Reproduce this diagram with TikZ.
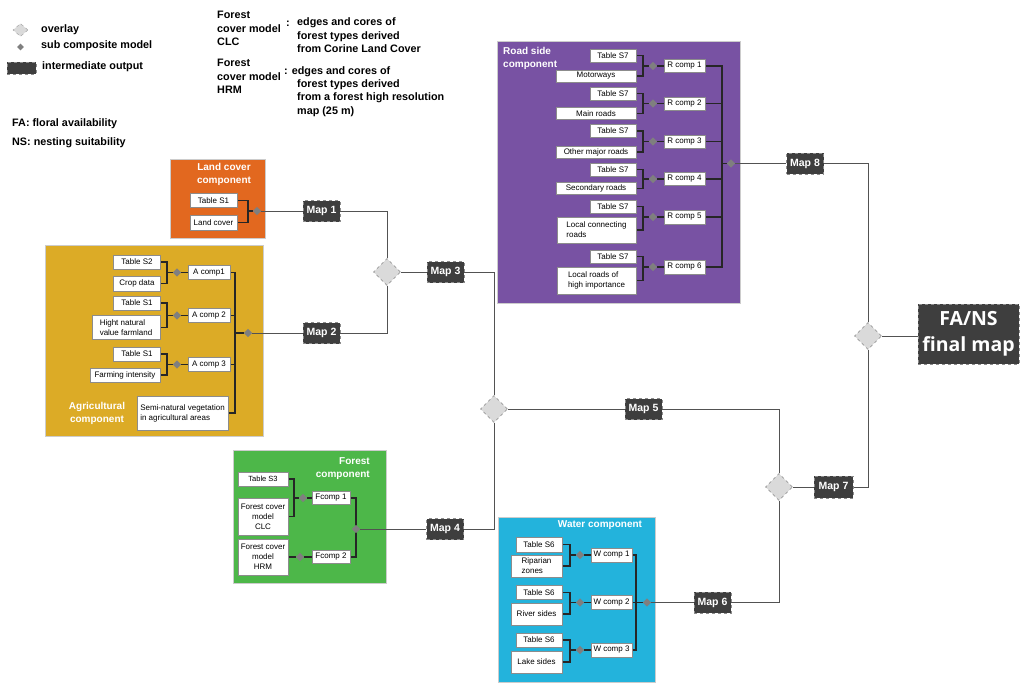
\documentclass[tikz,border=0pt]{standalone}
\usepackage{fontspec}
\setmainfont{Liberation Sans}
\newfontfamily\osans{Open Sans}
\usetikzlibrary{shapes.geometric}
\definecolor{cOrange}{HTML}{E2681F}
\definecolor{cGold}{HTML}{DCAB26}
\definecolor{cGreen}{HTML}{4DB749}
\definecolor{cCyan}{HTML}{23B3DC}
\definecolor{cPurple}{HTML}{7852A3}
\definecolor{mapgray}{HTML}{3E3E3E}
\definecolor{ovlgray}{HTML}{DADADA}
\definecolor{sdgray}{HTML}{7F7F7F}
\pgfdeclarelayer{back}
\pgfdeclarelayer{wires}
\pgfsetlayers{back,wires,main}
\begin{document}
\begin{tikzpicture}[x=1pt,y=-1pt,
 wbox/.style={draw=black!45, line width=0.5pt, fill=white, inner sep=1pt, font=\fontsize{8}{10}\selectfont, align=center, text=black},
 mapbox/.style={fill=mapgray, draw=black!45, dashed, line width=0.6pt, text=white, font=\bfseries\fontsize{10.5}{12}\selectfont, minimum width=37pt, minimum height=21pt, inner sep=0pt},
 ovl/.style={diamond, fill=ovlgray, draw=black!40, dashed, line width=0.6pt, minimum width=27pt, minimum height=27pt, inner sep=0pt},
 sdia/.style={diamond, fill=sdgray, minimum width=8.5pt, minimum height=8.5pt, inner sep=0pt},
 comp/.style={draw=black!20, line width=0.6pt},
 wire/.style={draw=black!85, line width=1.1pt},
 link/.style={draw=black!68, line width=1pt},
 ctitle/.style={text=white, font=\bfseries\fontsize{10}{13}\selectfont, inner sep=0pt},
 legend/.style={font=\bfseries\fontsize{10.8}{13.5}\selectfont, align=left, inner sep=0pt},
]
\useasboundingbox (0,0) rectangle (1024,690);

% ---------------- legend ----------------
\node[diamond, fill=ovlgray, draw=black!35, dashed, line width=0.5pt, minimum width=15pt, minimum height=13pt, inner sep=0pt] (lgo) at (20.5,30) {};
\node[sdia, minimum width=7pt, minimum height=7pt] (lgs) at (20.5,47) {};
\node[fill=mapgray, draw=black!45, dashed, line width=0.5pt, minimum width=29pt, minimum height=12pt, inner sep=0pt] (lgi) at (21.5,68.5) {};
\node[legend, anchor=west] (lgot) at (41,29.5) {overlay};
\node[legend, anchor=west] (lgst) at (41,46) {sub composite model};
\node[legend, anchor=west] (lgit) at (42,67) {intermediate output};
\node[legend, anchor=north west] (lclc) at (217,11) {Forest\\cover model\\CLC};
\node[legend, anchor=west] (lclcc) at (286,24) {:};
\node[legend, anchor=north west] (lclct) at (297,17.5) {edges and cores of\\forest types derived\\from Corine Land Cover};
\node[legend, anchor=north west] (lhrm) at (217,59) {Forest\\cover model\\HRM};
\node[legend, anchor=west] (lhrmc) at (284,71.5) {: edges and cores of};
\node[legend, anchor=north west] (lhrmt) at (297,79) {forest types derived\\from a forest high resolution\\map (25 m)};
\node[legend, anchor=west] (lfa) at (12,124) {FA: floral availability};
\node[legend, anchor=west] (lns) at (12,143) {NS: nesting suitability};

% ---------------- component backgrounds ----------------
\begin{pgfonlayer}{back}
\fill[cOrange, comp] (170,159) rectangle (265,238);
\fill[cGold, comp] (45,245) rectangle (263,436);
\fill[cGreen, comp] (233,450) rectangle (386,583);
\fill[cCyan, comp] (498,517) rectangle (655,682);
\fill[cPurple, comp] (497,41) rectangle (740,303);
\end{pgfonlayer}

% ---------------- land cover ----------------
\node[ctitle, align=center] (lct) at (224,174.5) {Land cover\\component};
\node[wbox, minimum width=47pt, minimum height=14pt] (lcT) at (213.5,200.5) {Table S1};
\node[wbox, minimum width=47pt, minimum height=15pt] (lcL) at (213.5,222.5) {Land cover};
\coordinate (lcj) at (248,211);
\node[sdia] (lcd) at (257,211) {};
\node[mapbox] (map1) at (321.5,211) {Map 1};

% ---------------- agricultural ----------------
\node[ctitle, align=center] (agt) at (97,413.5) {Agricultural\\component};
\node[wbox, minimum width=47pt, minimum height=14pt] (aT1) at (137,262) {Table S2};
\node[wbox, minimum width=47pt, minimum height=15pt] (aC) at (137,283.5) {Crop data};
\coordinate (aj1) at (167,272.5);
\node[sdia] (ad1) at (177,272.5) {};
\node[wbox, minimum width=42pt, minimum height=14pt] (aA1) at (209,272.5) {A comp1};
\node[wbox, minimum width=47pt, minimum height=14pt] (aT2) at (137,303) {Table S1};
\node[wbox, minimum width=68pt, minimum height=24pt, align=left] (aH) at (126,327.5) {Hight natural\\value farmland};
\coordinate (aj2) at (167,315.5);
\node[sdia] (ad2) at (177,315.5) {};
\node[wbox, minimum width=42pt, minimum height=14pt] (aA2) at (209,315.5) {A comp 2};
\node[wbox, minimum width=47pt, minimum height=14pt] (aT3) at (137,354) {Table S1};
\node[wbox, minimum width=70pt, minimum height=14pt] (aF) at (125,375) {Farming intensity};
\coordinate (aj3) at (167,364.5);
\node[sdia] (ad3) at (177,364.5) {};
\node[wbox, minimum width=42pt, minimum height=14pt] (aA3) at (209,364.5) {A comp 3};
\node[wbox, minimum width=91pt, minimum height=34pt, align=left] (aS) at (182.5,413) {Semi-natural vegetation\\in agricultural areas};
\coordinate (abot) at (235,413);
\node[sdia] (ad) at (248,333) {};
\node[mapbox] (map2) at (321.5,333) {Map 2};

% ---------------- forest ----------------
\node[ctitle, align=right, anchor=north east] (ft) at (370,457) {Forest\\component};
\node[wbox, minimum width=50pt, minimum height=14pt, font=\fontsize{7.5}{9}\selectfont] (fT) at (263,479) {Table S3};
\node[wbox, minimum width=50pt, minimum height=37pt] (fC) at (263,516.5) {Forest cover\\model\\CLC};
\node[wbox, minimum width=50pt, minimum height=36pt] (fH) at (263,557) {Forest cover\\model\\HRM};
\coordinate (fj) at (294,498);
\node[sdia] (fd1) at (303,498) {};
\node[wbox, minimum width=38pt, minimum height=13pt] (F1) at (331,498) {Fcomp 1};
\node[sdia] (fd2) at (300,557) {};
\node[wbox, minimum width=38pt, minimum height=13pt] (F2) at (331,557) {Fcomp 2};
\coordinate (fbot) at (356,557);
\node[sdia] (fd) at (356,529) {};
\node[mapbox] (map4) at (445,529) {Map 4};

% ---------------- water ----------------
\node[ctitle] (wt) at (600,525) {Water component};
\node[wbox, minimum width=46pt, minimum height=15pt] (wT1) at (539,544.5) {Table S6};
\node[wbox, minimum width=51pt, minimum height=22pt, align=left] (wR) at (536.5,566) {Riparian\\zones};
\coordinate (wj1) at (570,555);
\node[sdia] (wd1) at (580,555) {};
\node[wbox, minimum width=41pt, minimum height=14pt] (W1) at (611.5,555) {W comp 1};
\node[wbox, minimum width=46pt, minimum height=14pt] (wT2) at (539,592.5) {Table S6};
\node[wbox, minimum width=51pt, minimum height=22pt] (wRv) at (536.5,614) {River sides};
\coordinate (wj2) at (570,602.5);
\node[sdia] (wd2) at (580,602.5) {};
\node[wbox, minimum width=41pt, minimum height=14pt] (W2) at (611.5,602.5) {W comp 2};
\node[wbox, minimum width=46pt, minimum height=14pt] (wT3) at (539,640) {Table S6};
\node[wbox, minimum width=51pt, minimum height=22pt] (wL) at (536.5,662) {Lake sides};
\coordinate (wj3) at (570,650);
\node[sdia] (wd3) at (580,650) {};
\node[wbox, minimum width=41pt, minimum height=14pt] (W3) at (611.5,650) {W comp 3};
\coordinate (wbot) at (636,650);
\node[sdia] (wd) at (647,602.5) {};
\node[mapbox] (map6) at (712.5,602.5) {Map 6};

% ---------------- road side ----------------
\node[ctitle, align=left, anchor=north west] (rt) at (503,47.5) {Road side\\component};
\node[wbox, minimum width=46pt, minimum height=13pt] (rT1) at (613,55.5) {Table S7};
\node[wbox, minimum width=80pt, minimum height=12pt] (rB1) at (596,76) {Motorways};
\coordinate (rj1) at (643,66);
\node[sdia] (rd1) at (653,66) {};
\node[wbox, minimum width=41pt, minimum height=13pt] (R1) at (684.5,66) {R comp 1};
\node[wbox, minimum width=46pt, minimum height=13pt] (rT2) at (613,93.5) {Table S7};
\node[wbox, minimum width=80pt, minimum height=12pt] (rB2) at (596,113.5) {Main roads};
\coordinate (rj2) at (643,103.5);
\node[sdia] (rd2) at (653,103.5) {};
\node[wbox, minimum width=41pt, minimum height=13pt] (R2) at (684.5,103.5) {R comp 2};
\node[wbox, minimum width=46pt, minimum height=13pt] (rT3) at (613,131) {Table S7};
\node[wbox, minimum width=80pt, minimum height=12pt] (rB3) at (596,152) {Other major roads};
\coordinate (rj3) at (643,141.5);
\node[sdia] (rd3) at (653,141.5) {};
\node[wbox, minimum width=41pt, minimum height=13pt] (R3) at (684.5,141.5) {R comp 3};
\node[wbox, minimum width=46pt, minimum height=13pt] (rT4) at (613,169.5) {Table S7};
\node[wbox, minimum width=80pt, minimum height=12pt] (rB4) at (596,188.5) {Secondary roads};
\coordinate (rj4) at (643,179);
\node[sdia] (rd4) at (653,179) {};
\node[wbox, minimum width=41pt, minimum height=13pt] (R4) at (684.5,179) {R comp 4};
\node[wbox, minimum width=46pt, minimum height=13pt] (rT5) at (613,206.5) {Table S7};
\node[wbox, minimum width=79pt, minimum height=26pt, align=left] (rB5) at (596.5,230) {Local connecting\\roads};
\coordinate (rj5) at (643,217);
\node[sdia] (rd5) at (653,217) {};
\node[wbox, minimum width=41pt, minimum height=14pt] (R5) at (684.5,217) {R comp 5};
\node[wbox, minimum width=46pt, minimum height=13pt] (rT6) at (613,256.5) {Table S7};
\node[wbox, minimum width=79pt, minimum height=27pt, align=left] (rB6) at (596.5,280.5) {Local roads of\\high importance};
\coordinate (rj6) at (643,267);
\node[sdia] (rd6) at (653,267) {};
\node[wbox, minimum width=41pt, minimum height=14pt] (R6) at (684.5,267) {R comp 6};
\coordinate (rbot) at (722,267);
\node[sdia] (rd) at (731,163.5) {};
\node[mapbox] (map8) at (805,163.5) {Map 8};

% ---------------- overlays & maps ----------------
\node[ovl] (d1) at (387,272) {};
\node[mapbox] (map3) at (445.5,272) {Map 3};
\node[ovl] (d2) at (494,409) {};
\node[mapbox] (map5) at (643.5,409) {Map 5};
\node[ovl] (d3) at (779,487) {};
\node[mapbox, minimum width=39pt, minimum height=22pt] (map7) at (833.5,487) {Map 7};
\node[ovl] (d4) at (868,336) {};
\node[fill=mapgray, draw=black!45, dashed, line width=0.6pt, text=white, minimum width=101pt, minimum height=60pt, inner sep=0pt, align=center, font=\osans\bfseries\fontsize{19.5}{26}\selectfont] (final) at (968.5,334) {FA/NS\\final map};

% ---------------- wires ----------------
\begin{pgfonlayer}{wires}
% land cover
\draw[wire] (lcT) -| (lcj) |- (lcL);
\draw[wire] (lcj) -- (lcd);
\draw[link] (lcd) -- (map1);
% agricultural
\draw[wire] (aT1) -| (aj1) |- (aC);
\draw[wire] (aj1) -- (ad1) -- (aA1);
\draw[wire] (aT2) -| (aj2) |- (aH);
\draw[wire] (aj2) -- (ad2) -- (aA2);
\draw[wire] (aT3) -| (aj3) |- (aF);
\draw[wire] (aj3) -- (ad3) -- (aA3);
\draw[wire] (aA1) -| (abot) -- (aS);
\draw[wire] (aA2) -- (aA2 -| abot);
\draw[wire] (aA3) -- (aA3 -| abot);
\draw[wire] (abot |- ad) -- (ad);
\draw[link] (ad) -- (map2);
% forest
\draw[wire] (fT) -| (fj) |- (fC);
\draw[wire] (fj) -- (fd1) -- (F1);
\draw[wire] (fH) -- (fd2) -- (F2);
\draw[wire] (F1) -| (fbot) -- (F2);
\draw[link] (fd) -- (map4);
% water
\draw[wire] (wT1) -| (wj1) |- (wR);
\draw[wire] (wj1) -- (wd1) -- (W1);
\draw[wire] (wT2) -| (wj2) |- (wRv);
\draw[wire] (wj2) -- (wd2) -- (W2);
\draw[wire] (wT3) -| (wj3) |- (wL);
\draw[wire] (wj3) -- (wd3) -- (W3);
\draw[wire] (W1) -| (wbot) -- (W3);
\draw[wire] (W2) -- (wd);
\draw[link] (wd) -- (map6);
% road
\draw[wire] (rT1) -| (rj1) |- (rB1);
\draw[wire] (rj1) -- (rd1) -- (R1);
\draw[wire] (rT2) -| (rj2) |- (rB2);
\draw[wire] (rj2) -- (rd2) -- (R2);
\draw[wire] (rT3) -| (rj3) |- (rB3);
\draw[wire] (rj3) -- (rd3) -- (R3);
\draw[wire] (rT4) -| (rj4) |- (rB4);
\draw[wire] (rj4) -- (rd4) -- (R4);
\draw[wire] (rT5) -| (rj5) |- (rB5);
\draw[wire] (rj5) -- (rd5) -- (R5);
\draw[wire] (rT6) -| (rj6) |- (rB6);
\draw[wire] (rj6) -- (rd6) -- (R6);
\draw[wire] (R1) -| (rbot) -- (R6);
\draw[wire] (R2) -- (R2 -| rbot);
\draw[wire] (R3) -- (R3 -| rbot);
\draw[wire] (R4) -- (R4 -| rbot);
\draw[wire] (R5) -- (R5 -| rbot);
\draw[wire] (rbot |- rd) -- (rd);
\draw[link] (rd) -- (map8);
% overlays
\draw[link] (map1) -| (d1);
\draw[link] (map2) -| (d1);
\draw[link] (d1) -- (map3);
\draw[link] (map3) -| (d2);
\draw[link] (map4) -| (d2);
\draw[link] (d2) -- (map5);
\draw[link] (map5) -| (d3);
\draw[link] (map6) -| (d3);
\draw[link] (d3) -- (map7);
\draw[link] (map7) -| (d4);
\draw[link] (map8) -| (d4);
\draw[link] (d4) -- (d4 -| final.west);
\end{pgfonlayer}
\end{tikzpicture}
\end{document}
